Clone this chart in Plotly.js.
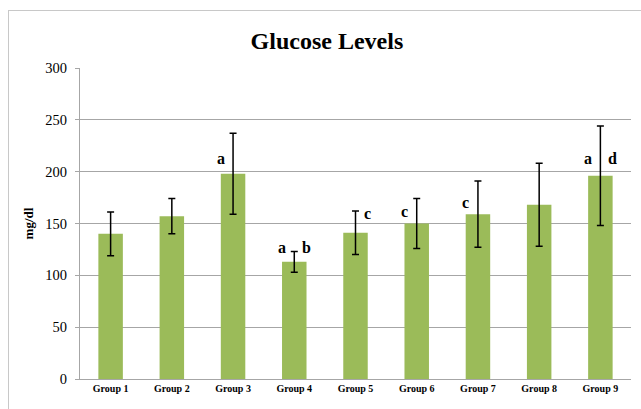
<!DOCTYPE html>
<html>
<head>
<meta charset="utf-8">
<script src="https://cdn.plot.ly/plotly-3.0.1.min.js"></script>
<style>
html,body{margin:0;padding:0;background:#fff;overflow:hidden;}
#wrap{position:relative;width:641px;height:409px;}
#chart{width:641px;height:409px;}
#frame{position:absolute;left:8px;top:10px;width:700px;height:500px;border-left:1px solid #c8c8c8;border-top:1px solid #c8c8c8;pointer-events:none;}
</style>
</head>
<body>
<div id="wrap"><div id="chart"></div><div id="frame"></div></div>
<script>
const groups = ["Group 1","Group 2","Group 3","Group 4","Group 5","Group 6","Group 7","Group 8","Group 9"];
const glucose = [140, 157, 198, 113, 141, 150, 159, 168, 196];
const errors = [21, 17, 39, 10, 21, 24, 32, 40, 48];
const yTicks = [0, 50, 100, 150, 200, 250, 300];

const letterGroups = ["Group 3","Group 4","Group 4","Group 5","Group 6","Group 7","Group 9","Group 9"];
const letterTexts = ["a","a","b","c","c","c","a","d"];
const letterY = [213, 127, 127, 160, 162, 170, 213, 213];
const letterSide = [-1, -1, 1, 1, -1, -1, -1, 1];

const serif = "Liberation Serif, Times New Roman, serif";

const trace = {
  type: "bar",
  x: groups,
  y: glucose,
  marker: {color: "#9BBB59"},
  error_y: {type: "data", array: errors, visible: true, color: "#000", thickness: 1.5, width: 3.5},
  hoverinfo: "none"
};

const annotations = letterTexts.map((t, i) => ({
  x: letterGroups[i], y: letterY[i], xref: "x", yref: "y",
  text: t, showarrow: false,
  xshift: letterSide[i] * 12,
  font: {family: serif, size: 16, color: "#000", weight: "bold"}
}));

const layout = {
  width: 641, height: 409,
  margin: {l: 80, r: 10, t: 67.5, b: 29.7, pad: 0},
  paper_bgcolor: "rgba(0,0,0,0)", plot_bgcolor: "rgba(0,0,0,0)",
  showlegend: false,
  bargap: 0.6,
  title: {text: "<b>Glucose Levels</b>", x: 0.51, xanchor: "center", y: 0.9, yanchor: "middle",
          font: {family: serif, size: 24, color: "#000"}},
  xaxis: {
    type: "category",
    showline: true, linecolor: "#a6a6a6", linewidth: 1,
    ticks: "", showgrid: false,
    tickfont: {family: serif, size: 10, color: "#000", weight: "bold"},
    tickangle: 0
  },
  yaxis: {
    range: [0, 300], tickvals: yTicks, ticktext: yTicks.map(String),
    showline: true, linecolor: "#a6a6a6", linewidth: 1,
    ticks: "outside", ticklen: 4, tickcolor: "#a6a6a6",
    ticklabelstandoff: 5,
    showgrid: true, gridcolor: "#a6a6a6", gridwidth: 1,
    zeroline: false,
    tickfont: {family: serif, size: 14.5, color: "#000"},
    title: {text: "<b>mg/dl</b>", standoff: 8, font: {family: serif, size: 13, color: "#000"}}
  },
  annotations: annotations
};

Plotly.newPlot("chart", [trace], layout, {staticPlot: true, displayModeBar: false});
</script>
</body>
</html>
